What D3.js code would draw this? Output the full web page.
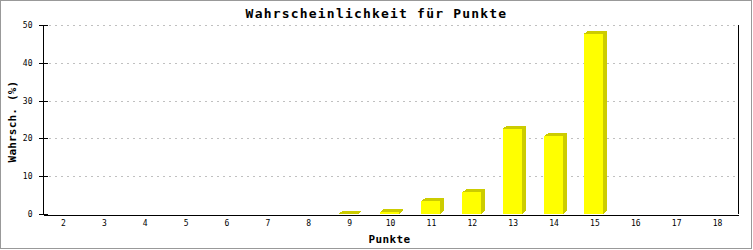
<!DOCTYPE html>
<html>
<head>
<meta charset="utf-8">
<script src="https://cdn.jsdelivr.net/npm/d3@7"></script>
<style>
  html, body { margin: 0; padding: 0; background: #fff; }
  svg { display: block; }
</style>
</head>
<body>
<svg id="chart" width="753" height="250"></svg>
<script>
const categories = ["2","3","4","5","6","7","8","9","10","11","12","13","14","15","16","17","18"];
const values = [0,0,0,0,0,0,0,0.1,0.5,3.4,5.7,22.6,20.6,47.7,0,0,0];
const yTicks = [0,10,20,30,40,50];
const title = "Wahrscheinlichkeit für Punkte";
const xTitle = "Punkte";
const yTitle = "Wahrsch. (%)";

(function () {
const svg = d3.select("#chart");
const W = 753, H = 250;
const pLeft = 43, pRight = 738, pTop = 25, pBottom = 214;

svg.append("rect").attr("x", 0.5).attr("y", 0.5).attr("width", 751).attr("height", 248)
  .attr("fill", "#fff").attr("stroke", "#999").attr("stroke-width", 1);

const x = d3.scaleBand().domain(categories).range([pLeft, pRight]).padding(0);
const y = d3.scaleLinear().domain([0, 50]).range([pBottom, pTop]);

// gridlines
const grid = svg.append("g").attr("transform", `translate(${pLeft},0)`)
  .call(d3.axisLeft(y).tickValues(yTicks.filter(d => d > 0)).tickSize(-(pRight - pLeft - 2)).tickFormat(""));
grid.select(".domain").remove();
grid.selectAll("line").attr("stroke", "#c0c0c0").attr("stroke-dasharray", "2,4")
  .attr("x1", 6).attr("shape-rendering", "crispEdges");

// bars
const fw = 19, dx = 4, dy = 3;
const data = categories.map((c, i) => ({c, v: values[i]})).filter(d => d.v > 0);
const bars = svg.append("g").attr("shape-rendering", "crispEdges");
data.forEach(d => {
  const x0 = Math.round(x(d.c) + (x.bandwidth() - fw) / 2 - 1);
  const x1 = x0 + fw;
  const yt = y(d.v), yb = y(0);
  bars.append("polygon")
    .attr("points", [[x1, yt], [x1 + dx, yt - dy], [x1 + dx, yb - dy], [x1, yb]].join(" "))
    .attr("fill", "#cccc00");
  bars.append("polygon")
    .attr("points", [[x0, yt], [x0 + dx, yt - dy], [x1 + dx, yt - dy], [x1, yt]].join(" "))
    .attr("fill", "#cccc00");
  bars.append("rect").attr("x", x0).attr("y", yt).attr("width", fw).attr("height", yb - yt)
    .attr("fill", "#ffff00");
});

// right frame line
svg.append("line").attr("x1", pRight + 0.5).attr("x2", pRight + 0.5).attr("y1", pTop).attr("y2", pBottom)
  .attr("stroke", "#000");

// y axis
const ya = svg.append("g").attr("transform", `translate(${pLeft + 0.5},0)`)
  .call(d3.axisLeft(y).tickValues(yTicks).tickSize(5).tickPadding(6));
ya.select(".domain").attr("d", `M0,${pTop}V${pBottom}`).attr("stroke", "#000");
ya.selectAll(".tick line").attr("x1", 4).attr("x2", -5).attr("stroke", "#000");
ya.selectAll(".tick text").attr("font-family", "DejaVu Sans Mono, monospace").attr("font-size", 8)
  .attr("fill", "#000").attr("x", -11);
ya.selectAll(".tick").attr("shape-rendering", "crispEdges");

// x axis
const xa = svg.append("g").attr("transform", `translate(0,${pBottom + 0.5})`)
  .call(d3.axisBottom(x).tickSize(0).tickPadding(6));
xa.select(".domain").attr("stroke", "#000").attr("shape-rendering", "crispEdges");
xa.selectAll(".tick text").attr("font-family", "DejaVu Sans Mono, monospace").attr("font-size", 8)
  .attr("fill", "#000");

// titles
svg.append("text").attr("x", W / 2).attr("y", 18).attr("text-anchor", "middle")
  .attr("font-family", "DejaVu Sans Mono, monospace").attr("font-weight", "bold")
  .attr("font-size", 13).attr("letter-spacing", 1.2).text(title);
svg.append("text").attr("x", (pLeft + pRight) / 2 - 1).attr("y", 243).attr("text-anchor", "middle")
  .attr("font-family", "DejaVu Sans Mono, monospace").attr("font-weight", "bold")
  .attr("font-size", 11).attr("letter-spacing", 0.4).text(xTitle);
svg.append("text").attr("transform", `translate(16,${(pTop + pBottom) / 2 + 2}) rotate(-90)`)
  .attr("text-anchor", "middle")
  .attr("font-family", "DejaVu Sans Mono, monospace").attr("font-weight", "bold")
  .attr("font-size", 11).attr("letter-spacing", 0.2).text(yTitle);
})();
</script>
</body>
</html>
